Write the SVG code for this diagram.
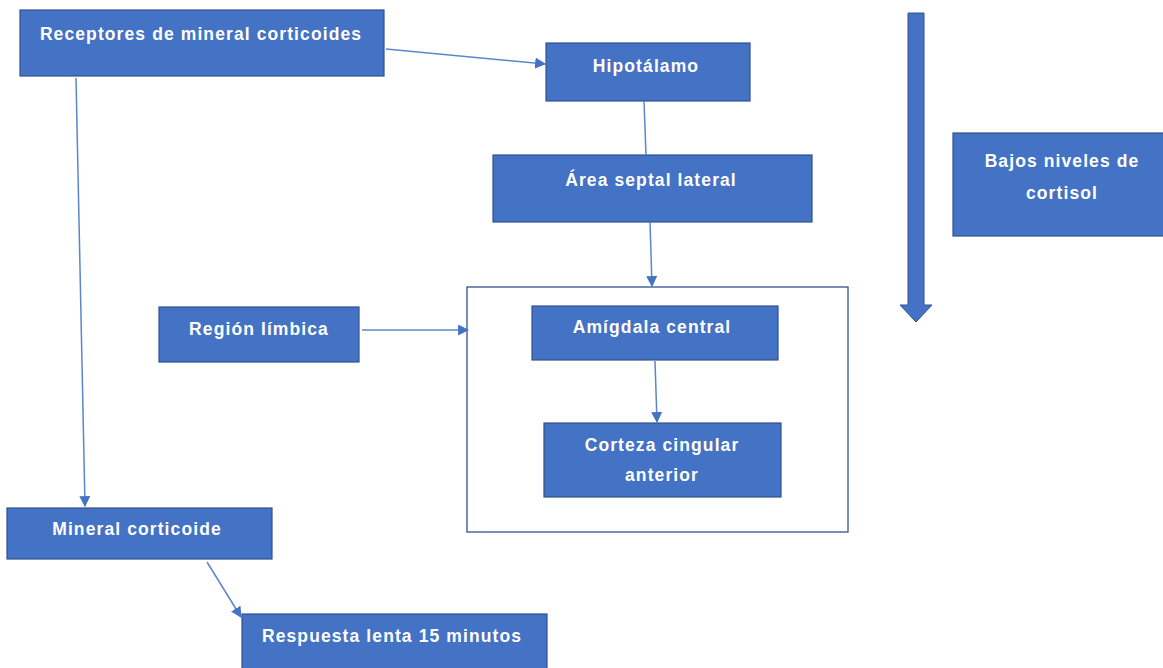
<svg xmlns="http://www.w3.org/2000/svg" width="1163" height="668" viewBox="0 0 1163 668">
<style>
.n{fill:#4472C4;stroke:#2F528F;stroke-width:1.2}
.t{font-family:"Liberation Sans",Arial,sans-serif;font-weight:bold;font-size:17.5px;fill:#fff;text-anchor:middle;letter-spacing:1.1px}
.c{stroke:#5B86CF;stroke-width:1.5;fill:none;marker-end:url(#ah)}
</style>
<defs>
<marker id="ah" viewBox="0 0 10 10" refX="9" refY="5" markerWidth="11" markerHeight="11" markerUnits="userSpaceOnUse" orient="auto"><path d="M0,0 L10,5 L0,10 z" fill="#4472C4"/></marker>
</defs>
<rect width="1163" height="668" fill="#fff"/>
<g id="grupo"><rect x="467" y="287" width="381" height="245" fill="none" stroke="#2F528F" stroke-width="1.3"/></g>
<g id="receptores"><rect class="n" x="20" y="10" width="364" height="66"/><text class="t" x="201" y="40">Receptores de mineral corticoides</text></g>
<g id="hipotalamo"><rect class="n" x="546" y="43" width="204" height="58"/><text class="t" x="646" y="72">Hipotálamo</text></g>
<g id="area"><rect class="n" x="493" y="155" width="319" height="67"/><text class="t" x="651" y="186">Área septal lateral</text></g>
<g id="region"><rect class="n" x="159" y="307" width="200" height="55"/><text class="t" x="259" y="335">Región límbica</text></g>
<g id="amigdala"><rect class="n" x="532" y="306" width="246" height="54"/><text class="t" x="652" y="333">Amígdala central</text></g>
<g id="corteza"><rect class="n" x="544" y="423" width="237" height="74"/><text class="t" x="662" y="451">Corteza cingular</text><text class="t" x="662" y="481">anterior</text></g>
<g id="mineral"><rect class="n" x="7" y="508" width="265" height="51"/><text class="t" x="137" y="535">Mineral corticoide</text></g>
<g id="respuesta"><rect class="n" x="242" y="614" width="305" height="60"/><text class="t" x="392" y="642">Respuesta lenta 15 minutos</text></g>
<g id="bajos"><rect class="n" x="953" y="133" width="215" height="103"/><text class="t" x="1062" y="167">Bajos niveles de</text><text class="t" x="1062" y="199">cortisol</text></g>
<g id="flecha"><path d="M908,13 H924 V305 H932 L916,322 L900,305 H908 Z" fill="#4472C4" stroke="#2F528F" stroke-width="1"/></g>
<g id="connectors">
<line class="c" x1="386" y1="49" x2="545" y2="64"/>
<line class="c" x1="76" y1="78" x2="85" y2="506"/>
<line x1="644" y1="101" x2="646" y2="155" stroke="#5B86CF" stroke-width="1.5"/>
<line class="c" x1="650" y1="222" x2="652" y2="286"/>
<line class="c" x1="362" y1="330" x2="468" y2="330"/>
<line class="c" x1="655" y1="361" x2="657" y2="422"/>
<line class="c" x1="207" y1="562" x2="241" y2="617"/>
</g>
</svg>
